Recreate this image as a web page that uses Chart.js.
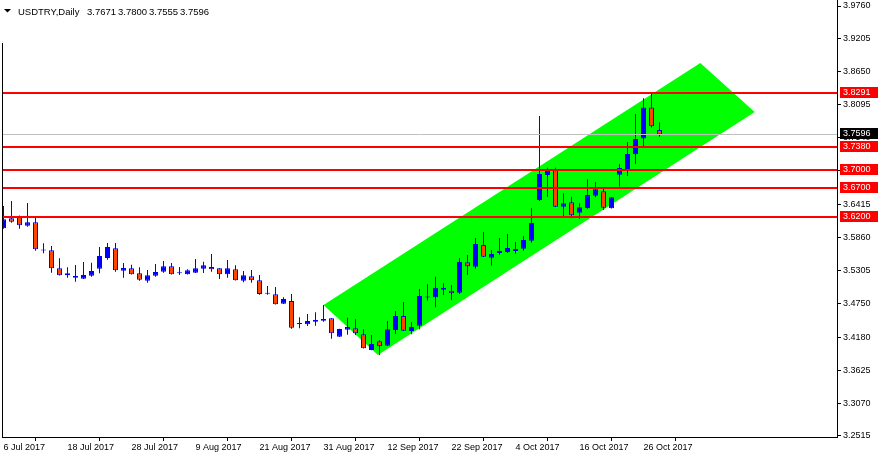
<!DOCTYPE html>
<html>
<head>
<meta charset="utf-8">
<script src="https://cdn.jsdelivr.net/npm/chart.js@4.4.0/dist/chart.umd.min.js"></script>
<style>
html,body{margin:0;padding:0;background:#fff;overflow:hidden;}
canvas{display:block;}
</style>
</head>
<body>
<canvas id="c" width="878" height="459"></canvas>
<script>
// ---------------- DATA ----------------
const symbolTitle = 'USDTRY,Daily';

const dates = [
'2017-07-06','2017-07-07','2017-07-10','2017-07-11','2017-07-12','2017-07-13','2017-07-14',
'2017-07-17','2017-07-18','2017-07-19','2017-07-20','2017-07-21',
'2017-07-24','2017-07-25','2017-07-26','2017-07-27','2017-07-28','2017-07-31',
'2017-08-01','2017-08-02','2017-08-03','2017-08-04',
'2017-08-07','2017-08-08','2017-08-09','2017-08-10','2017-08-11',
'2017-08-14','2017-08-15','2017-08-16','2017-08-17','2017-08-18',
'2017-08-21','2017-08-22','2017-08-23','2017-08-24','2017-08-25',
'2017-08-28','2017-08-29','2017-08-30','2017-08-31','2017-09-01',
'2017-09-04','2017-09-05','2017-09-06','2017-09-07','2017-09-08',
'2017-09-11','2017-09-12','2017-09-13','2017-09-14','2017-09-15',
'2017-09-18','2017-09-19','2017-09-20','2017-09-21','2017-09-22',
'2017-09-25','2017-09-26','2017-09-27','2017-09-28','2017-09-29',
'2017-10-02','2017-10-03','2017-10-04','2017-10-05','2017-10-06',
'2017-10-09','2017-10-10','2017-10-11','2017-10-12','2017-10-13',
'2017-10-16','2017-10-17','2017-10-18','2017-10-19','2017-10-20',
'2017-10-23','2017-10-24','2017-10-25','2017-10-26','2017-10-27',
'2017-10-30'
];

const opens = [
3.6014,3.6183,3.6216,3.6058,3.6115,3.5642,3.5644,3.5341,3.5256,3.5182,
3.5165,3.5216,3.5334,3.5514,3.5678,3.5300,3.5341,3.5256,3.5132,3.5216,
3.5283,3.5374,3.5256,3.5240,3.5267,3.5334,3.5363,3.5341,3.5240,3.5324,
3.5132,3.5206,3.5139,3.4919,3.4902,3.4744,3.4789,3.4400,3.4396,3.4440,
3.4457,3.4498,3.4188,3.4306,3.4329,3.4228,3.3964,3.4111,3.4037,3.4301,
3.4536,3.4284,3.4373,3.4850,3.4852,3.4980,3.4963,3.4929,3.5442,3.5368,
3.5733,3.5519,3.5598,3.5615,3.5632,3.5671,3.5806,3.6491,3.6912,3.6992,
3.6378,3.6452,3.6277,3.6356,3.6563,3.6638,3.6351,3.6917,3.7013,3.7261,
3.7529,3.8048,3.7671
];
const highs = [
3.6390,3.6474,3.6232,3.6440,3.6210,3.5761,3.5716,3.5509,3.5358,3.5396,
3.5447,3.5435,3.5700,3.5767,3.5767,3.5430,3.5401,3.5358,3.5312,3.5413,
3.5464,3.5430,3.5363,3.5324,3.5497,3.5452,3.5582,3.5345,3.5480,3.5391,
3.5295,3.5312,3.5228,3.5042,3.5025,3.4852,3.4907,3.4515,3.4570,3.4599,
3.4722,3.4502,3.4320,3.4508,3.4481,3.4312,3.4217,3.4133,3.4452,3.4621,
3.4772,3.4435,3.4991,3.5071,3.5199,3.5088,3.5059,3.5514,3.5565,3.5851,
3.5952,3.5649,3.5851,3.5919,3.5784,3.5885,3.6351,3.7906,3.7036,3.7036,
3.6604,3.6547,3.6435,3.6840,3.6794,3.6693,3.6540,3.7098,3.7468,3.7940,
3.8205,3.8300,3.7800
];
const lows = [
3.6005,3.6109,3.6007,3.6041,3.5637,3.5593,3.5267,3.5218,3.5182,3.5115,
3.5160,3.5199,3.5256,3.5486,3.5283,3.5182,3.5236,3.5132,3.5098,3.5199,
3.5267,3.5236,3.5228,3.5236,3.5262,3.5261,3.5283,3.5160,3.5182,3.5135,
3.5105,3.5098,3.4895,3.4895,3.4730,3.4740,3.4322,3.4329,3.4368,3.4373,
3.4440,3.4154,3.4185,3.4221,3.4216,3.3990,3.3960,3.3880,3.4033,3.4233,
3.4285,3.4228,3.4312,3.4795,3.4683,3.4891,3.4806,3.4907,3.5228,3.5334,
3.5532,3.5385,3.5570,3.5598,3.5582,3.5637,3.5772,3.6474,3.6541,3.6374,
3.6193,3.6183,3.6176,3.6344,3.6537,3.6322,3.6348,3.6715,3.6895,3.7097,
3.7389,3.7711,3.7555
];
const closes = [
3.6166,3.6125,3.6065,3.6115,3.5660,3.5644,3.5341,3.5223,3.5223,3.5211,
3.5228,3.5295,3.5548,3.5700,3.5307,3.5346,3.5240,3.5149,3.5223,3.5278,
3.5374,3.5240,3.5261,3.5307,3.5341,3.5391,3.5324,3.5240,3.5341,3.5139,
3.5223,3.5139,3.4907,3.4912,3.4734,3.4823,3.4339,3.4404,3.4452,3.4469,
3.4486,3.4245,3.4317,3.4351,3.4245,3.3993,3.4065,3.4026,3.4312,3.4536,
3.4289,3.4351,3.4873,3.4856,3.5014,3.5014,3.4919,3.5447,3.5374,3.5750,
3.5536,3.5582,3.5632,3.5683,3.5666,3.5818,3.6104,3.6929,3.7009,3.6378,
3.6435,3.6233,3.6368,3.6574,3.6671,3.6361,3.6537,3.7030,3.7266,3.7519,
3.8048,3.7733,3.7596
];

// horizontal price levels and last price
const levels = [3.8291, 3.7380, 3.7000, 3.6700, 3.6200];
const lastPrice = 3.7596;

// channel corners (bar index, price)
const channelX = [40.0, 87.1, 93.9, 46.8];
const channelY = [3.4722, 3.8800, 3.7974, 3.3880];

// axis ticks
const yTickValues = [3.9760,3.9205,3.8650,3.8095,3.7540,3.6985,3.6415,3.5860,3.5305,3.4750,3.4180,3.3625,3.3070,3.2515];
const xTickDates = ['2017-07-06','2017-07-18','2017-07-28','2017-08-09','2017-08-21','2017-08-31','2017-09-12','2017-09-22','2017-10-04','2017-10-16','2017-10-26'];
const xTickLabels = ['6 Jul 2017','18 Jul 2017','28 Jul 2017','9 Aug 2017','21 Aug 2017','31 Aug 2017','12 Sep 2017','22 Sep 2017','4 Oct 2017','16 Oct 2017','26 Oct 2017'];

// ---------------- BUILD ----------------
const FONT_FAMILY = '"Liberation Sans", Arial, sans-serif';
const BLUE = '#0000FF';
const BEAR = '#FF4500';

const idx = dates.map((d, i) => i);
const bodyData = idx.map(i => ({ x: i, y: [opens[i], closes[i]] }));
const wickData = idx.map(i => ({ x: i, y: [lows[i], highs[i]] }));
const bodyColors = idx.map(i => closes[i] >= opens[i] ? BLUE : BEAR);
const channelPts = channelX.map((x, k) => ({ x: x, y: channelY[k] }));
channelPts.push({ x: channelX[0], y: channelY[0] });
const xTickIdx = xTickDates.map(d => dates.indexOf(d));

const overlay = {
  id: 'overlay',
  afterDatasetsDraw(chart) {
    const { ctx, chartArea: a, scales: { y } } = chart;
    ctx.save();
    const py = Math.round(y.getPixelForValue(lastPrice)) + 0.5;
    ctx.strokeStyle = '#C0C0C0';
    ctx.lineWidth = 1;
    ctx.beginPath(); ctx.moveTo(a.left, py); ctx.lineTo(a.right, py); ctx.stroke();
    ctx.strokeStyle = '#FF0000';
    ctx.lineWidth = 2;
    levels.forEach(v => {
      const p = Math.round(y.getPixelForValue(v));
      ctx.beginPath(); ctx.moveTo(a.left, p); ctx.lineTo(a.right, p); ctx.stroke();
    });
    ctx.restore();
  },
  afterDraw(chart) {
    const { ctx, chartArea: a, scales: { y } } = chart;
    ctx.save();
    ctx.font = '9px ' + FONT_FAMILY;
    ctx.textBaseline = 'middle';
    ctx.textAlign = 'left';
    const box = (v, bg) => {
      const p = Math.round(y.getPixelForValue(v));
      ctx.fillStyle = bg;
      ctx.fillRect(a.right + 3, p - 6, chart.width - a.right - 3, 11);
      ctx.fillStyle = '#FFFFFF';
      ctx.fillText(v.toFixed(4), a.right + 6, p);
    };
    box(lastPrice, '#000000');
    levels.forEach(v => box(v, '#FF0000'));

    // left border
    ctx.fillStyle = '#000';
    ctx.fillRect(a.left, 43, 1, a.bottom - 43);

    // title
    ctx.beginPath();
    ctx.moveTo(4, 9); ctx.lineTo(11, 9); ctx.lineTo(7.5, 12.5); ctx.closePath();
    ctx.fill();
    ctx.font = '9.5px ' + FONT_FAMILY;
    ctx.textBaseline = 'alphabetic';
    ctx.fillText(symbolTitle, 18, 15);
    const n = opens.length - 1;
    const ohlc = [opens[n], highs[n], lows[n], closes[n]];
    ohlc.forEach((v, k) => ctx.fillText(v.toFixed(4), 87 + 31 * k, 15));
    ctx.restore();
  }
};

const yMax = 3.98611, yMin = 3.24981;

new Chart(document.getElementById('c'), {
  type: 'bar',
  data: {
    datasets: [
      { type: 'line', data: channelPts, fill: 'shape', backgroundColor: '#00FF00', borderColor: '#00FF00',
        borderWidth: 0, pointRadius: 0, tension: 0, order: 3 },
      { type: 'bar', data: wickData, backgroundColor: BLUE, borderWidth: 0, grouped: false,
        barPercentage: 0.125, categoryPercentage: 1, order: 2 },
      { type: 'bar', data: bodyData, backgroundColor: bodyColors, borderColor: BLUE, borderWidth: 1,
        borderSkipped: false, grouped: false, barPercentage: 0.625, categoryPercentage: 1, minBarLength: 1, order: 1 }
    ]
  },
  options: {
    responsive: false,
    animation: false,
    devicePixelRatio: 1,
    events: [],
    layout: { padding: { left: 2, top: 0, right: 0, bottom: 0 } },
    plugins: { legend: { display: false }, tooltip: { enabled: false }, title: { display: false } },
    scales: {
      x: {
        type: 'linear', position: 'bottom', min: -0.1875, max: 104.1875, offset: false,
        afterBuildTicks: s => { s.ticks = xTickIdx.map(v => ({ value: v })); },
        afterFit: s => { s.height = 22; s.paddingLeft = 0; s.paddingRight = 0; },
        grid: { display: true, drawOnChartArea: false, drawTicks: true, tickLength: 4, color: '#000', lineWidth: 1 },
        border: { display: true, color: '#000', width: 1 },
        ticks: {
          autoSkip: false, maxRotation: 0, minRotation: 0, align: 'start', padding: 1, color: '#000',
          font: { family: FONT_FAMILY, size: 9 },
          callback: v => { const k = xTickIdx.indexOf(v); return k >= 0 ? xTickLabels[k] : ''; }
        }
      },
      y: {
        type: 'linear', position: 'right', min: yMin, max: yMax,
        afterBuildTicks: s => { s.ticks = yTickValues.map(v => ({ value: v })); },
        afterFit: s => { s.width = 41; s.paddingTop = 0; s.paddingBottom = 0; },
        grid: { display: true, drawOnChartArea: false, drawTicks: true, tickLength: 4, color: '#000', lineWidth: 1 },
        border: { display: true, color: '#000', width: 1 },
        ticks: {
          autoSkip: false, padding: 2, color: '#000',
          font: { family: FONT_FAMILY, size: 9 },
          callback: v => Number(v).toFixed(4)
        }
      }
    }
  },
  plugins: [overlay]
});
</script>
</body>
</html>
